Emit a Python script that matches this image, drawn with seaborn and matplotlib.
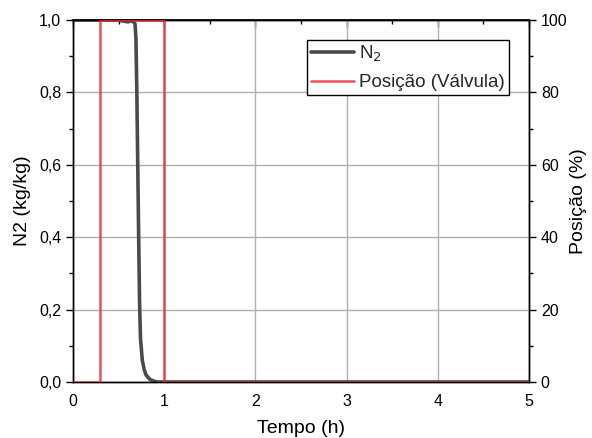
import numpy as np
import pandas as pd
import matplotlib
matplotlib.use("Agg")
import matplotlib.pyplot as plt
import seaborn as sns
from matplotlib.ticker import MultipleLocator, FuncFormatter, NullFormatter

sns.set_theme(style="white")
plt.rcParams['font.family'] = ['Liberation Sans', 'DejaVu Sans']

# N2 mass fraction over time
t_n2 = [0.0, 0.50, 0.55, 0.60, 0.65, 0.68, 0.69, 0.70, 0.71, 0.72, 0.73, 0.74, 0.76,
        0.78, 0.80, 0.84, 0.88, 0.92, 1.0, 5.0]
n2 = [1.0, 1.0, 0.997, 0.995, 0.998, 0.99, 0.95, 0.80, 0.60, 0.40, 0.22, 0.12, 0.06,
      0.035, 0.02, 0.008, 0.003, 0.0, 0.0, 0.0]

# Valve position (%)
t_valve = [0.0, 0.3, 0.3, 1.0, 1.0, 5.0]
valve = [0.0, 0.0, 100.0, 100.0, 0.0, 0.0]

df_n2 = pd.DataFrame({"t": t_n2, "v": n2})
df_valve = pd.DataFrame({"t": t_valve, "v": valve})

fig = plt.figure(figsize=(5.92, 4.38), dpi=100)
ax = fig.add_axes([73/592, 1-382/438, (529-73)/592, (382-20)/438])
ax2 = ax.twinx()

sns.lineplot(data=df_n2, x="t", y="v", ax=ax, color="#4a4a4a", linewidth=2.6,
             sort=False, estimator=None, errorbar=None,
             label="N$_2$", legend=False, zorder=3)
sns.lineplot(data=df_valve, x="t", y="v", ax=ax2, color="#e8262e", linewidth=1.8,
             sort=False, estimator=None, errorbar=None,
             label="Posição (Válvula)", legend=False, alpha=0.8, zorder=3)

ax.set_xlim(0, 5)
ax.set_ylim(0, 1.0)
ax2.set_ylim(0, 100)

ax.xaxis.set_major_locator(MultipleLocator(1))
ax.xaxis.set_minor_locator(MultipleLocator(0.5))
ax.yaxis.set_major_locator(MultipleLocator(0.2))
ax.yaxis.set_minor_locator(MultipleLocator(0.1))
ax2.yaxis.set_major_locator(MultipleLocator(20))
ax2.yaxis.set_minor_locator(MultipleLocator(10))
ax.yaxis.set_major_formatter(FuncFormatter(lambda v, p: f"{v:.1f}".replace(".", ",")))

ax.grid(True, which="major", color="#b0b0b0", linewidth=1.0)
ax.set_axisbelow(True)

for a in (ax, ax2):
    for s in a.spines.values():
        s.set_color("black")
        s.set_linewidth(1.0)

ax.tick_params(axis="both", which="major", direction="out", length=5, width=1,
               labelsize=11.5, color="black", labelcolor="black")
ax.tick_params(axis="both", which="minor", direction="out", length=3, width=1, color="black")
ax2.tick_params(axis="y", which="major", direction="out", length=5, width=1,
                labelsize=11.5, color="black", labelcolor="black")
ax2.tick_params(axis="y", which="minor", direction="out", length=3, width=1, color="black")

# top ticks pointing inward
top = ax.secondary_xaxis("top")
top.xaxis.set_major_locator(MultipleLocator(1))
top.xaxis.set_minor_locator(MultipleLocator(0.5))
top.xaxis.set_major_formatter(NullFormatter())
top.tick_params(axis="x", which="major", direction="in", length=5, width=1, color="black")
top.tick_params(axis="x", which="minor", direction="in", length=3, width=1, color="black")
top.spines["top"].set_color("black")

ax.set_xlabel("Tempo (h)", fontsize=14, color="black", labelpad=8)
ax.set_ylabel("N2 (kg/kg)", fontsize=14, color="black", labelpad=6)
ax2.set_ylabel("Posição (%)", fontsize=14, color="black", labelpad=2)

h1, l1 = ax.get_legend_handles_labels()
h2, l2 = ax2.get_legend_handles_labels()
leg = ax2.legend(h1 + h2, l1 + l2, loc="upper left", bbox_to_anchor=(0.513, 0.945),
                 fontsize=13.5, frameon=True, fancybox=False, edgecolor="black",
                 framealpha=1, borderpad=0.2, handlelength=2.3, handletextpad=0.3,
                 labelspacing=0.55, borderaxespad=0)
leg.get_frame().set_linewidth(1.0)

fig.savefig("out.png", dpi=100)
